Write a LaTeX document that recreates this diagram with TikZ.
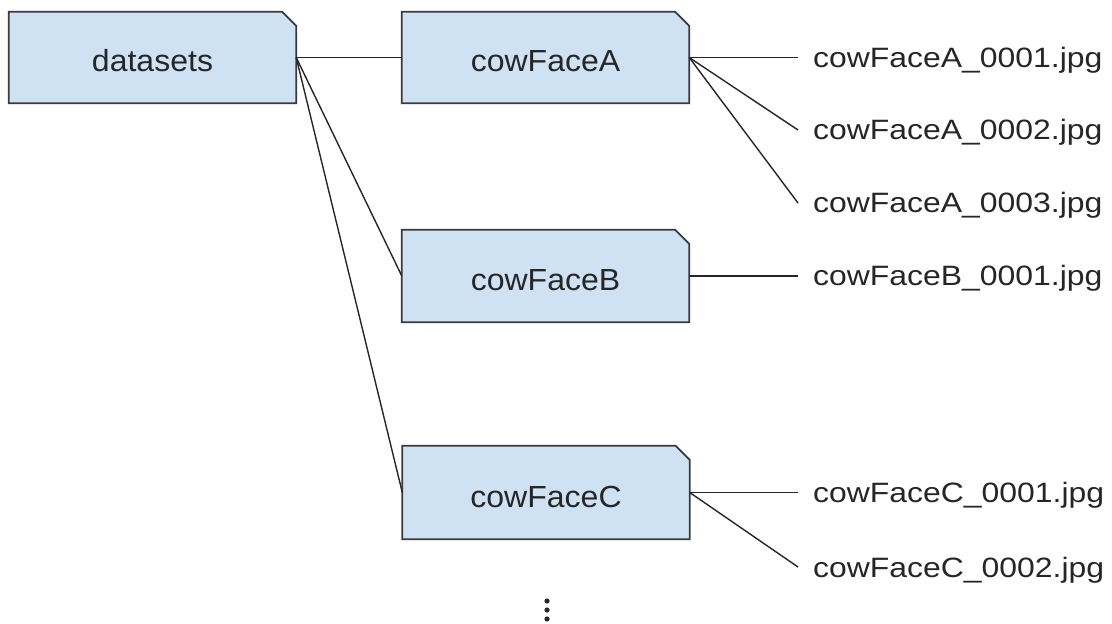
\documentclass[tikz,border=0pt]{standalone}
\usepackage{fontspec}
\setmainfont{Liberation Sans}[FakeStretch=1.14]
\newfontfamily\boxfont{Liberation Sans}[FakeStretch=1.05]
\usetikzlibrary{backgrounds}
\definecolor{boxfill}{HTML}{CFE2F3}
\definecolor{boxedge}{HTML}{3A3A3A}
\definecolor{linecol}{HTML}{262626}
\begin{document}
\begin{tikzpicture}[x=1bp,y=-1bp,
  every node/.style={font=\fontsize{28bp}{32bp}\selectfont, text=black!85},
  folder/.style={minimum width=287bp, minimum height=91bp, inner sep=0pt,
    font=\boxfont\fontsize{30.5bp}{34bp}\selectfont, text height=36bp, text depth=7bp},
  fname/.style={anchor=west, inner xsep=15bp, inner ysep=0pt, text height=20bp, text depth=0bp},
  conn/.style={draw=linecol, line width=1.4bp},
  boxline/.style={draw=boxedge, fill=boxfill, line width=1.8bp, line join=miter}]
\useasboundingbox (0,0) rectangle (1112,624);
\node[folder] (ds) at (152.5,57.5) {datasets};
\node[folder] (fa) at (545.5,57.5) {cowFaceA};
\node[folder, minimum height=92bp] (fb) at (545.5,276) {cowFaceB};
\node[folder, minimum height=93bp] (fc) at (546,492.5) {cowFaceC};
\begin{scope}[on background layer]
\foreach \n in {ds,fa,fb,fc}
  \draw[boxline] (\n.north west) -- ([xshift=-14bp]\n.north east) -- ([yshift=-14bp]\n.north east) -- (\n.south east) -- (\n.south west) -- cycle;
\end{scope}
\node[fname] (a1) at (798,57.5) {cowFaceA\_0001.jpg};
\node[fname] (a2) at (798,130) {cowFaceA\_0002.jpg};
\node[fname] (a3) at (798,203) {cowFaceA\_0003.jpg};
\node[fname] (b1) at (798,276) {cowFaceB\_0001.jpg};
\node[fname] (c1) at (798,492.5) {cowFaceC\_0001.jpg};
\node[fname] (c2) at (798,567) {cowFaceC\_0002.jpg};
\draw[conn] (ds.east) -- (fa.west);
\draw[conn] (ds.east) -- (fb.west);
\draw[conn] (ds.east) -- (fc.west);
\draw[conn] (fa.east) -- (a1.west);
\draw[conn] (fa.east) -- (a2.west);
\draw[conn] (fa.east) -- (a3.west);
\draw[conn] (fb.east) -- (b1.west);
\draw[conn] (fc.east) -- (c1.west);
\draw[conn] (fc.east) -- (c2.west);
\foreach \yy in {601,610,619}
  \fill[black!85] (547,\yy) circle (2.6bp);
\end{tikzpicture}
\end{document}
